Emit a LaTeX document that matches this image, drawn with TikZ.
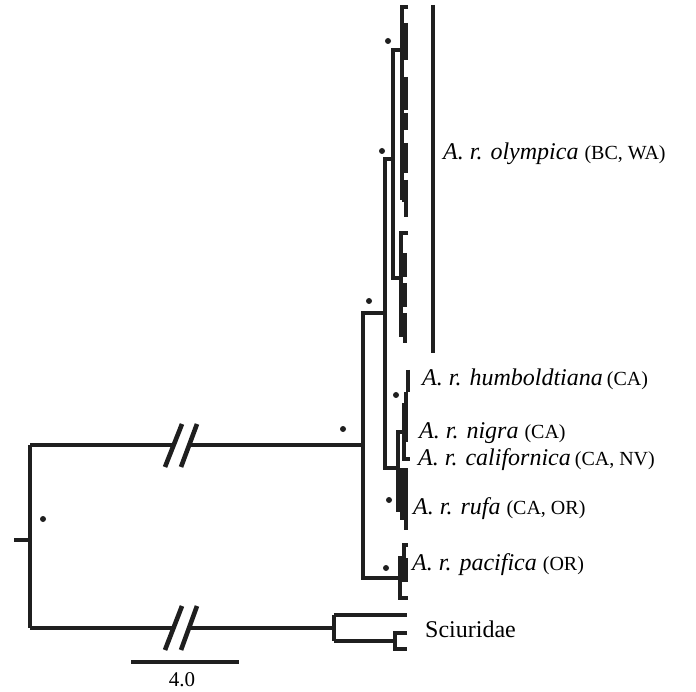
\documentclass[tikz,border=0pt]{standalone}
\usepackage{fontspec}
\setmainfont{Liberation Serif}
\newcommand\regfont{\fontsize{20}{22}\selectfont\upshape}
\begin{document}
\begin{tikzpicture}[x=1pt,y=-1pt,
  edge/.style={line width=3.1pt, draw=black!88, line join=miter},
  stem/.style={line width=4.4pt, draw=black!88},
  blob/.style={line width=3.8pt, draw=black!88},
  slash/.style={line width=4.6pt, draw=black!88},
  support/.style={circle, fill=black!88, inner sep=0pt, minimum size=6pt},
  taxon/.style={anchor=base west, inner sep=0pt, font=\fontsize{24}{26}\selectfont}]
\useasboundingbox (0,0) rectangle (696,692);

% ---- internal nodes of the tree ----
\coordinate (root) at (30,540);
\coordinate (rstub) at (14,540);
\coordinate (A) at (363,445);
\coordinate (B) at (385,313);
\coordinate (O) at (393,159);
\coordinate (O1) at (402,50);
\coordinate (O2) at (401,278);
\coordinate (C) at (398,468);
\coordinate (C1) at (404,432);
\coordinate (R) at (402,510);
\coordinate (P) at (400,578);
\coordinate (S) at (334,628);
\coordinate (S2) at (395,641);

% ---- root and the two long (broken) branches ----
\draw[edge] (rstub) -- (root);
\draw[edge] (30,445) -- (30,628);
\draw[edge] (30,445) -- (173,445);
\draw[stem] (191,445) -- (A);
\draw[edge] (30,628) -- (173,628);
\draw[stem] (191,628) -- (S);
% break marks
\draw[slash] (165,467) -- (182,424);
\draw[slash] (181,467) -- (197,424);
\draw[slash] (165,650) -- (182,606);
\draw[slash] (181,650) -- (197,606);

% ---- outgroup: Sciuridae ----
\draw[edge] (334,615) -- (334,641);
\draw[edge] (334,615) -- (407,615);
\draw[edge] (334,641) -- (S2);
\draw[edge] (407,633) -| (395,649) -- (407,649);

% ---- ingroup backbone ----
\draw[edge] (385,313) -| (363,578) -- (P);
\draw[edge] (393,159) -| (385,468) -- (C);
\draw[edge] (402,50) -| (393,278) -- (O2);

% olympica, first subclade
\draw[edge] (408,7) -| (402,200);
\foreach \a/\b in {23/60, 77/110, 113/130, 143/173, 180/217}
  \draw[blob] (406,\a) -- (406,\b);
\foreach \y in {40, 95, 120, 160, 200}
  \draw[edge] (402,\y) -- (405,\y);

% olympica, second subclade
\draw[edge] (408,233) -| (401,335) -- (405,335);
\foreach \a/\b in {253/277, 283/307, 313/343}
  \draw[blob] (405,\a) -- (405,\b);
\foreach \y in {265, 295}
  \draw[edge] (401,\y) -- (404,\y);

% humboldtiana / nigra / californica
\draw[edge] (C1) -| (398,510) -- (R);
\draw[edge] (407,405) -| (404,459) -- (410,459);
\draw[blob] (408,370) -- (408,392);
\draw[blob] (406,392) -- (406,442);

% rufa
\draw[edge] (408,470) -| (402,518) -- (406,518);
\draw[blob] (406,470) -- (406,510);
\draw[blob] (406,508) -- (406,530);

% pacifica
\draw[edge] (404,558) -| (400,598) -- (408,598);
\draw[edge] (408,545) -| (404,582);
\draw[blob] (406,558) -- (406,582);

% ---- support dots ----
\foreach \p [count=\i] in {(388,41), (382,151), (369,301), (343,429), (396,395), (389,500), (386,568), (43,519)}
  \node[support] (dot\i) at \p {};

% ---- clade bar and labels ----
\draw[line width=3.4pt, draw=black!88] (433,5) coordinate (bartop) -- (433,353) coordinate (barbot);
\node[taxon] (lolym) at (443,160) {\textit{A. r. olympica} {\regfont (BC, WA)}};
\node[taxon] (lhumb) at (422,386) {\textit{A. r. humboldtiana}\,{\regfont(CA)}};
\node[taxon] (lnigr) at (419,438) {\textit{A. r. nigra} {\regfont(CA)}};
\node[taxon] (lcali) at (418,465) {\textit{A. r. californica}\,{\regfont(CA, NV)}};
\node[taxon] (lrufa) at (413,514) {\textit{A. r. rufa} {\regfont(CA, OR)}};
\node[taxon] (lpaci) at (412,570) {\textit{A. r. pacifica} {\regfont(OR)}};
\node[taxon] (lsciu) at (425,637) {Sciuridae};

% ---- scale bar ----
\draw[line width=3.6pt, draw=black!88] (131,662) coordinate (sb1) -- (239,662) coordinate (sb2);
\node[font=\fontsize{21}{23}\selectfont, inner sep=0pt] (sblab) at (182,680) {4.0};
\end{tikzpicture}
\end{document}
